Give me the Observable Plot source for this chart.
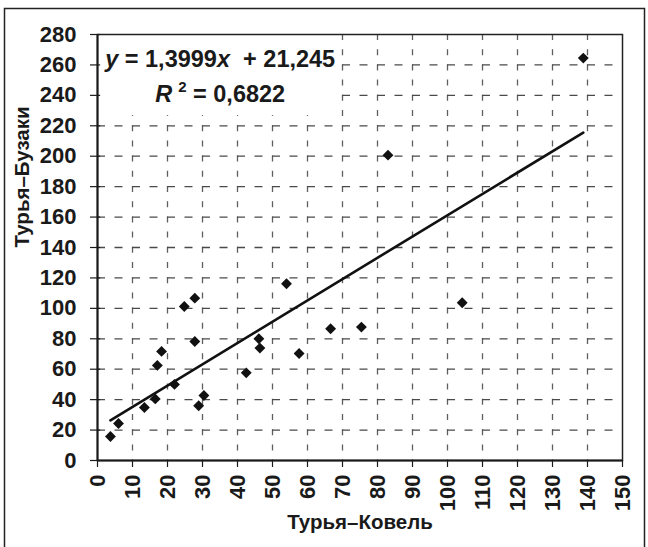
<!DOCTYPE html>
<html>
<head>
<meta charset="utf-8">
<script src="https://cdn.jsdelivr.net/npm/d3@7"></script>
<script src="https://cdn.jsdelivr.net/npm/@observablehq/plot@0.6"></script>
<style>
  html, body { margin: 0; padding: 0; background: #fff; }
  #chart { position: relative; width: 648px; height: 547px; overflow: hidden; }
  #chart svg { display: block; }
</style>
</head>
<body>
<div id="chart"></div>
<script>
// Daily values at two gauging stations: Турья–Ковель (x) vs Турья–Бузаки (y)
const kovel  = [3.7, 6.0, 13.4, 16.5, 17.1, 18.3, 22.0, 24.8, 27.8, 27.8, 28.9, 30.4,
                42.5, 46.1, 46.4, 54.0, 57.6, 66.6, 75.4, 83.0, 104.2, 138.8];
const buzaky = [15.8, 24.3, 34.8, 40.5, 62.5, 71.7, 50.0, 101.2, 106.7, 78.2, 36.0, 42.7,
                57.6, 80.0, 73.9, 116.2, 70.3, 86.6, 87.7, 200.7, 103.7, 264.5];

// Linear trend reported for the series
const slope = 1.3999;
const intercept = 21.245;
const r2 = 0.6822;

// Axis ticks
const xTicks = [0, 10, 20, 30, 40, 50, 60, 70, 80, 90, 100, 110, 120, 130, 140, 150];
const yTicks = [0, 20, 40, 60, 80, 100, 120, 140, 160, 180, 200, 220, 240, 260, 280];

const xTitle = "Турья–Ковель";
const yTitle = "Турья–Бузаки";

const points = kovel.map((x, i) => ({x, y: buzaky[i]}));
const xExtent = d3.extent(kovel);
const trend = xExtent.map(x => ({x, y: slope * x + intercept}));

const FONT = "'Liberation Sans', Arial, Helvetica, sans-serif";
const INK = "#1a1a1a";

const chart = Plot.plot({
  width: 648,
  height: 547,
  marginLeft: 97,
  marginRight: 26,
  marginTop: 34,
  marginBottom: 87,
  style: {fontFamily: FONT, fontWeight: "bold", fontSize: "22px", color: INK, background: "#fff"},
  x: {domain: [0, 150]},
  y: {domain: [0, 280]},
  marks: [
    // dashed grid
    Plot.ruleX(xTicks.slice(1, -1), {stroke: "#5e5e5e", strokeWidth: 1.3, strokeDasharray: "6,9.2"}),
    Plot.ruleY(yTicks.slice(1, -1), {stroke: "#4a4a4a", strokeWidth: 1.3, strokeDasharray: "8,9.5"}),
    Plot.frame({stroke: "#222", strokeWidth: 1.5}),
    Plot.ruleX([0], {stroke: INK, strokeWidth: 2}),
    Plot.ruleY([0], {stroke: INK, strokeWidth: 2}),
    // short inner half of the crossing y ticks
    Plot.ruleY(yTicks.slice(1), {x1: 0, x2: 0.9, stroke: INK, strokeWidth: 1.2}),
    Plot.axisY({ticks: yTicks, tickSize: 7, tickPadding: 14, label: null, strokeWidth: 1.2}),
    Plot.axisX({ticks: xTicks, tickSize: 7, tickPadding: 7, tickRotate: -90, label: null, strokeWidth: 1.2}),
    Plot.text([xTitle], {frameAnchor: "bottom", dy: 68, fontSize: 20.5, fontWeight: "bold", fill: INK}),
    Plot.text([yTitle], {frameAnchor: "left", dx: -75, rotate: -90, fontSize: 20.5, fontWeight: "bold", fill: INK}),
    // regression line and observations
    Plot.line(trend, {x: "x", y: "y", stroke: "#111", strokeWidth: 2.6}),
    Plot.dot(points, {x: "x", y: "y", symbol: "diamond2", r: 4.9, fill: "#111", stroke: "none"})
  ]
});

document.getElementById("chart").appendChild(chart);

// Equation annotation in the upper-left corner of the plot
const sx = chart.scale("x");
const sy = chart.scale("y");
const fmt = v => String(v).replace(".", ",");
const svg = d3.select(chart);

const eq = svg.append("g")
  .attr("font-family", FONT)
  .attr("font-weight", "bold")
  .attr("font-size", 23.5)
  .attr("fill", INK)
  .attr("text-anchor", "middle")
  .style("white-space", "pre");

const eqCenter = 35.2;
const line1 = eq.append("text").attr("x", sx.apply(eqCenter)).attr("y", sy.apply(258.3));
line1.append("tspan").attr("font-style", "italic").text("y");
line1.append("tspan").text(" = " + fmt(slope));
line1.append("tspan").attr("font-style", "italic").text("x");
line1.append("tspan").text("  + " + fmt(intercept));

const line2 = eq.append("text").attr("x", sx.apply(eqCenter)).attr("y", sy.apply(235.2));
line2.append("tspan").attr("font-style", "italic").text("R");
line2.append("tspan").attr("font-size", 15).attr("dx", 6).attr("dy", -10).text("2");
line2.append("tspan").attr("dy", 10).text(" = " + fmt(r2));

// White backdrop behind the equation, cut into the grid
const bb = eq.node().getBBox();
const plotLeft = sx.apply(0);
const plotTop = sy.apply(280);
const frameNode = chart.querySelector('[aria-label="frame"]');
const backdrop = document.createElementNS("http://www.w3.org/2000/svg", "rect");
backdrop.setAttribute("x", plotLeft + 1);
backdrop.setAttribute("y", plotTop + 1);
backdrop.setAttribute("width", bb.x + bb.width + 3 - plotLeft - 1);
backdrop.setAttribute("height", bb.y + bb.height + 8 - plotTop - 1);
backdrop.setAttribute("fill", "#fff");
frameNode.parentNode.insertBefore(backdrop, frameNode);

// Outer border of the figure
svg.append("rect")
  .attr("x", 4.5).attr("y", 8.5)
  .attr("width", 640).attr("height", 545)
  .attr("fill", "none")
  .attr("stroke", "#222")
  .attr("stroke-width", 1.5);
</script>
</body>
</html>
